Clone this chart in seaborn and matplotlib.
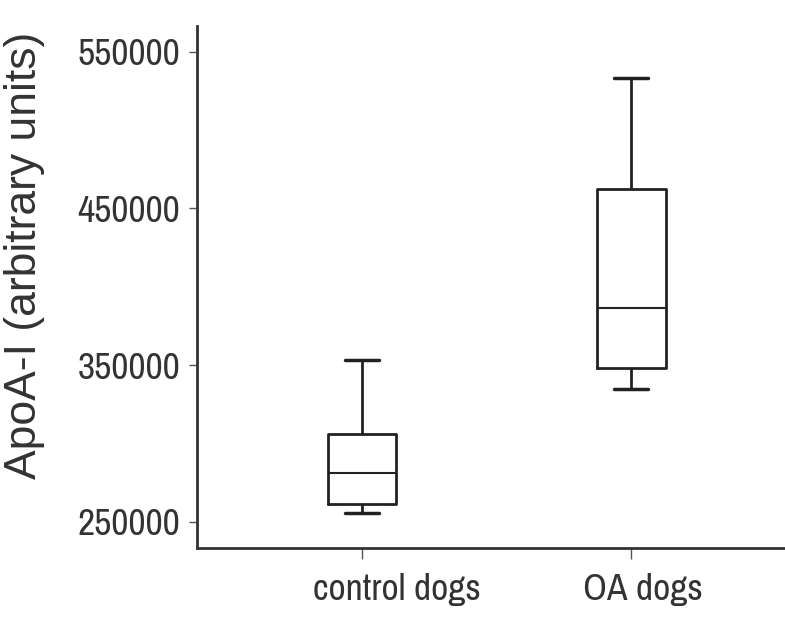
import numpy as np
import pandas as pd
import matplotlib
matplotlib.use("Agg")
import matplotlib.pyplot as plt
import matplotlib.transforms as mtransforms
from matplotlib import font_manager
from matplotlib.font_manager import FontProperties
import seaborn as sns

# Data (five-number summaries: min, Q1, median, Q3, max)
categories = ["control dogs", "OA dogs"]
control_values = [255700, 261500, 281250, 306100, 353300]
oa_values = [334800, 348200, 386500, 462400, 533200]
yticks = [250000, 350000, 450000, 550000]
ylabel = "ApoA-I (arbitrary units)"

df = pd.DataFrame({
    "group": [categories[0]] * len(control_values) + [categories[1]] * len(oa_values),
    "value": control_values + oa_values,
})

sns.set_style("ticks")
plt.rcParams["font.family"] = ["Liberation Sans", "DejaVu Sans"]


def find_narrow():
    fl = font_manager.fontManager.ttflist
    prefs = [
        lambda f: "liberation" in f.fname.lower() and "narrow" in f.fname.lower() and "bold" not in f.fname.lower() and "italic" not in f.fname.lower(),
        lambda f: "narrow" in (f.name + f.fname).lower() and "bold" not in f.fname.lower() and "italic" not in f.fname.lower() and "oblique" not in f.fname.lower(),
        lambda f: "condensed" in (f.name + f.fname).lower() and "sans" in (f.name + f.fname).lower() and "bold" not in f.fname.lower() and "italic" not in f.fname.lower() and "oblique" not in f.fname.lower() and "mono" not in f.fname.lower() and "semi" not in f.fname.lower() and "extra" not in f.fname.lower(),
    ]
    for p in prefs:
        for f in fl:
            try:
                if p(f):
                    return f.fname
            except Exception:
                pass
    return None


nf = find_narrow()
if nf and "narrow" in nf.lower():
    tick_fp = FontProperties(fname=nf, size=27)
elif nf:
    tick_fp = FontProperties(fname=nf, size=24)
else:
    tick_fp = FontProperties(family="Liberation Sans", size=22)

fig = plt.figure(figsize=(7.85, 6.22), dpi=100)
ax = fig.add_axes([0.251, 0.119, 0.749, 0.839])

line_color = "#222222"
sns.boxplot(data=df, x="group", y="value", order=categories, ax=ax,
            whis=np.inf, width=0.256, fill=False, color=line_color,
            linewidth=2.0,
            medianprops=dict(linewidth=1.5, color=line_color),
            boxprops=dict(linewidth=2.0, color=line_color),
            whiskerprops=dict(linewidth=2.0, color=line_color),
            capprops=dict(linewidth=2.5, color=line_color))

ax.set_xlim(-0.613, 1.572)
ax.set_ylim(233400, 566300)
ax.set_yticks(yticks)
ax.set_yticklabels([str(v) for v in yticks], color="#333333")
ax.set_xticks([0, 1])
ax.set_xticklabels(categories, color="#333333")
for lab in ax.get_yticklabels() + ax.get_xticklabels():
    lab.set_fontproperties(tick_fp)
ax.set_xlabel("")
ax.set_ylabel(ylabel, fontsize=32, color="#333333")
ax.yaxis.set_label_coords(-0.2585, 0.561)

for s in ["top", "right"]:
    ax.spines[s].set_visible(False)
for s in ["left", "bottom"]:
    ax.spines[s].set_linewidth(2.0)
    ax.spines[s].set_color("#333333")
ax.tick_params(axis="y", length=6, width=1, color="#555555", pad=6)
ax.tick_params(axis="x", length=8, width=1, color="#555555", pad=10)

# horizontal offsets of the category labels as in the reference
offsets = [35, 12]
for lab, dx in zip(ax.get_xticklabels(), offsets):
    lab.set_transform(lab.get_transform() + mtransforms.ScaledTranslation(dx / 100, 0, fig.dpi_scale_trans))

fig.savefig("out.png", dpi=100)
